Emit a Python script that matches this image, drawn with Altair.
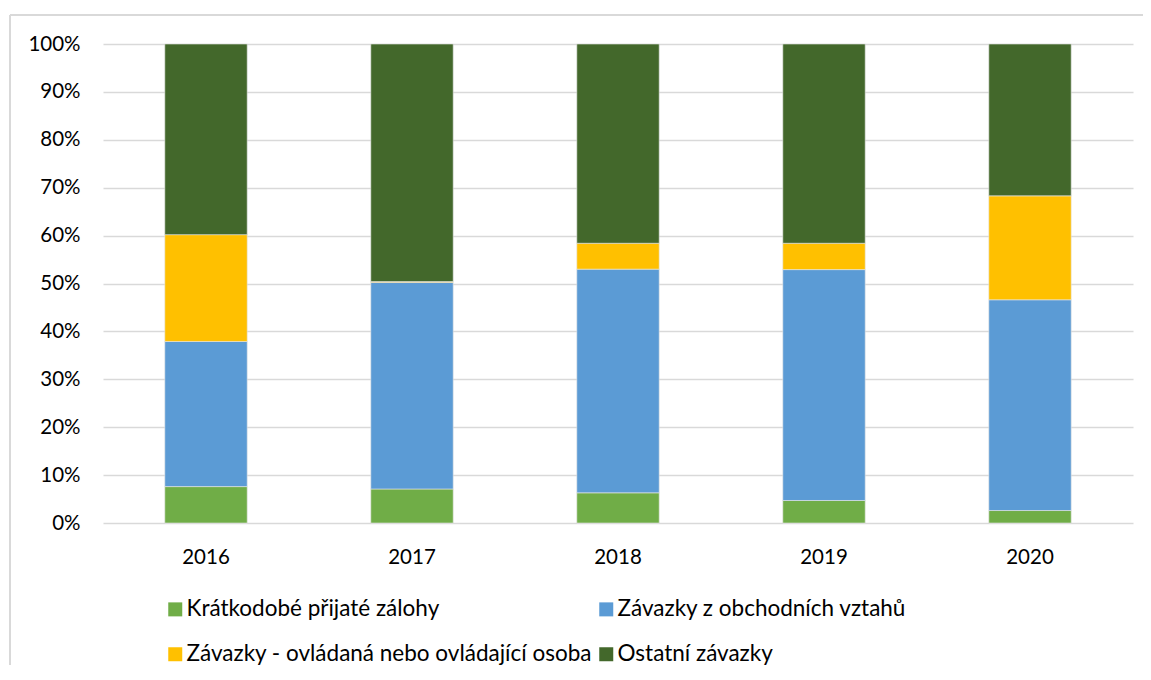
import altair as alt
import pandas as pd

years = ["2016", "2017", "2018", "2019", "2020"]
series = [
    "Krátkodobé přijaté zálohy",
    "Závazky z obchodních vztahů",
    "Závazky - ovládaná nebo ovládající osoba",
    "Ostatní závazky",
]
colors = ["#70AD47", "#5B9BD5", "#FFC000", "#43682B"]

kratkodobe = [7.6, 7.1, 6.3, 4.7, 2.6]
obchodni = [30.3, 43.1, 46.7, 48.2, 44.0]
ovladana = [22.3, 0.2, 5.4, 5.5, 21.7]
ostatni = [39.8, 49.6, 41.6, 41.6, 31.7]

rows = []
for i, y in enumerate(years):
    for k, (name, vals) in enumerate(zip(series, [kratkodobe, obchodni, ovladana, ostatni])):
        rows.append({"year": y, "series": name, "value": vals[i] / 100.0, "order": k})
df = pd.DataFrame(rows)

# legend fills column by column: reorder so that it reads row by row as in the original
legend_order = [series[0], series[2], series[1], series[3]]
legend_colors = [colors[0], colors[2], colors[1], colors[3]]

FONT = "Lato"

bars = alt.Chart(df).mark_bar(stroke="#e6e6e6", strokeWidth=0.6).encode(
    x=alt.X("year:N", sort=years, title=None,
            scale=alt.Scale(paddingInner=0.6, paddingOuter=0.3),
            axis=alt.Axis(labelAngle=0, domain=False, ticks=False, labelPadding=24,
                          labelFontSize=20.5, labelFont=FONT, labelColor="#000000")),
    y=alt.Y("sum(value):Q", stack="zero", title=None,
            scale=alt.Scale(domain=[0, 1], nice=False),
            axis=alt.Axis(format=".0%", values=[i / 10 for i in range(11)], domain=False,
                          ticks=False, labelPadding=23, labelFontSize=20.5, labelFont=FONT,
                          labelColor="#000000", gridColor="#d9d9d9", gridWidth=1.3)),
    color=alt.Color("series:N",
                    scale=alt.Scale(domain=legend_order, range=legend_colors),
                    legend=alt.Legend(title=None, orient="none", legendX=61, legendY=554,
                                      columns=2, symbolType="square", symbolSize=196,
                                      symbolStrokeWidth=0, labelFontSize=22.5, labelFont=FONT,
                                      labelColor="#000000", labelOffset=0, rowPadding=22,
                                      columnPadding=3, labelLimit=700)),
    order=alt.Order("order:Q", sort="ascending"),
)

border_top = alt.Chart(df).mark_rule(color="#d9d9d9", strokeWidth=1.5).encode(
    x=alt.value(-93), x2=alt.value(1100), y=alt.value(-29)
)
border_left = alt.Chart(df).mark_rule(color="#d9d9d9", strokeWidth=1.5).encode(
    x=alt.value(-93), y=alt.value(-29), y2=alt.value(700)
)

chart = alt.layer(border_top, border_left, bars).properties(
    width=1030, height=479,
    autosize=alt.AutoSizeParams(type="none"),
    padding={"left": 95, "top": 36, "right": 10, "bottom": 142},
).configure_view(stroke=None)

chart.save("out.html", embed_options={"renderer": "svg", "actions": False})
